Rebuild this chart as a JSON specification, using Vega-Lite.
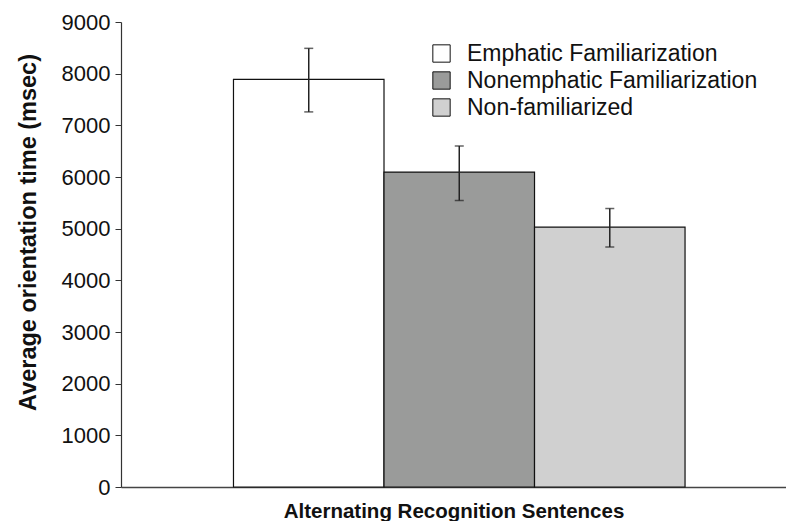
{
  "$schema": "https://vega.github.io/schema/vega-lite/v6.json",
  "width": 665,
  "height": 465,
  "autosize": {"type": "none"},
  "padding": {"left": 121, "top": 22, "right": 0, "bottom": 34},
  "background": "white",
  "config": {
    "font": "Liberation Sans",
    "view": {"stroke": null}
  },
  "data": {
    "values": [
      {"group": "Emphatic Familiarization", "mean": 7890, "low": 7260, "high": 8490},
      {"group": "Nonemphatic Familiarization", "mean": 6095, "low": 5545, "high": 6600},
      {"group": "Non-familiarized", "mean": 5030, "low": 4645, "high": 5390}
    ]
  },
  "encoding": {
    "x": {
      "field": "group",
      "type": "nominal",
      "sort": ["Emphatic Familiarization", "Nonemphatic Familiarization", "Non-familiarized"],
      "scale": {"paddingInner": 0, "paddingOuter": 0.709, "align": 0.527},
      "axis": {
        "title": "Alternating Recognition Sentences",
        "titleFontSize": 20.5,
        "titleFontWeight": "bold",
        "titleColor": "#111",
        "titlePadding": 14,
        "labels": false,
        "ticks": false,
        "domainColor": "#444",
        "domainWidth": 1.5
      }
    }
  },
  "layer": [
    {
      "mark": {"type": "bar", "stroke": "#111", "strokeWidth": 1.2},
      "encoding": {
        "y": {
          "field": "mean",
          "type": "quantitative",
          "scale": {"domain": [0, 9000], "nice": false},
          "axis": {
            "title": "Average orientation time (msec)",
            "titleFontSize": 23.5,
            "titleFontWeight": "bold",
            "titleColor": "#111",
            "titleX": -86,
            "titleY": 210,
            "titleBaseline": "alphabetic",
            "values": [0, 1000, 2000, 3000, 4000, 5000, 6000, 7000, 8000, 9000],
            "format": "d",
            "grid": false,
            "labelFontSize": 22,
            "labelColor": "#111",
            "labelPadding": 5,
            "tickSize": 6,
            "tickColor": "#333",
            "domainColor": "#333",
            "domainWidth": 1.2
          }
        },
        "fill": {
          "field": "group",
          "type": "nominal",
          "sort": ["Emphatic Familiarization", "Nonemphatic Familiarization", "Non-familiarized"],
          "scale": {
            "domain": ["Emphatic Familiarization", "Nonemphatic Familiarization", "Non-familiarized"],
            "range": ["#ffffff", "#9a9b9a", "#d0d0d0"]
          },
          "legend": {
            "title": null,
            "orient": "none",
            "legendX": 309,
            "legendY": 20,
            "symbolType": "square",
            "symbolSize": 300,
            "symbolStrokeColor": "#111",
            "symbolStrokeWidth": 1,
            "symbolOpacity": 1,
            "labelFontSize": 23,
            "labelColor": "#111",
            "labelOffset": 14,
            "rowPadding": 3,
            "labelLimit": 400
          }
        }
      }
    },
    {
      "mark": {"type": "rule", "color": "#222", "strokeWidth": 1.5},
      "encoding": {
        "y": {"field": "low", "type": "quantitative"},
        "y2": {"field": "high"}
      }
    },
    {
      "mark": {"type": "tick", "color": "#222", "size": 9, "thickness": 1.5, "orient": "horizontal"},
      "encoding": {
        "y": {"field": "low", "type": "quantitative"}
      }
    },
    {
      "mark": {"type": "tick", "color": "#222", "size": 9, "thickness": 1.5, "orient": "horizontal"},
      "encoding": {
        "y": {"field": "high", "type": "quantitative"}
      }
    }
  ]
}
